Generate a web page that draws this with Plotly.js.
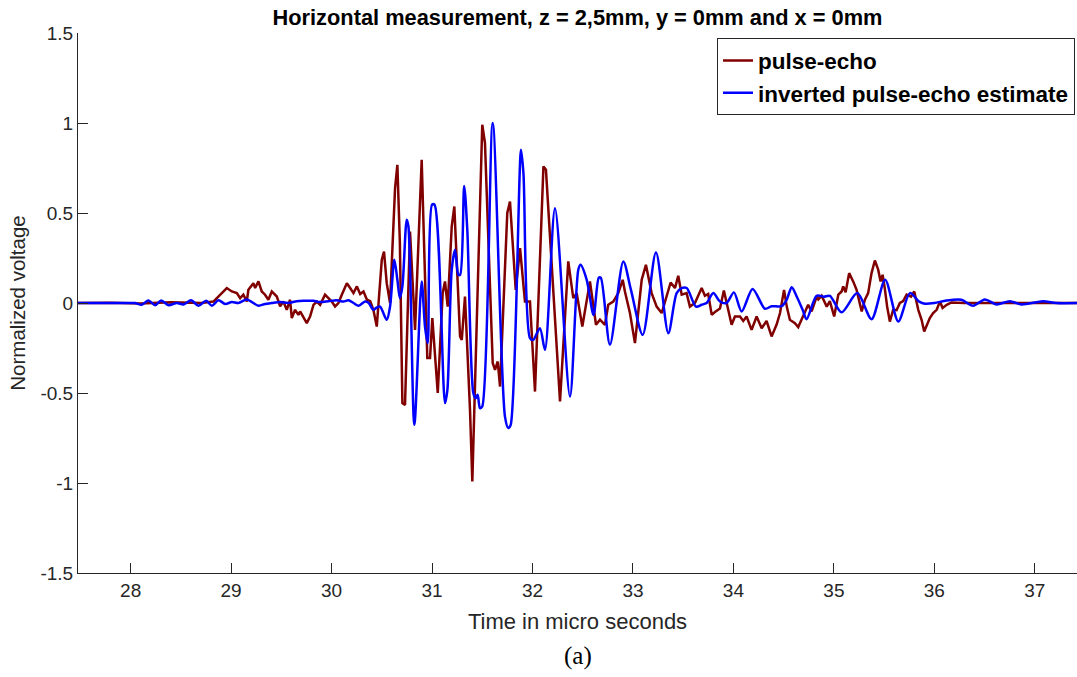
<!DOCTYPE html>
<html>
<head>
<meta charset="utf-8">
<script src="https://cdn.plot.ly/plotly-3.0.1.min.js"></script>
<style>html,body{margin:0;padding:0;background:#fff;}#chart{width:1077px;height:677px;}</style>
</head>
<body>
<div id="chart"></div>
<script>
// ---- data ----
const pulseEchoTime = [27.476, 27.8, 28.1, 28.4, 28.7, 28.824, 28.957, 29.007, 29.057, 29.09, 29.122, 29.156, 29.172, 29.222, 29.239, 29.272, 29.305, 29.338, 29.371, 29.405, 29.455, 29.488, 29.52, 29.554, 29.587, 29.604, 29.637, 29.67, 29.687, 29.72, 29.753, 29.786, 29.82, 29.853, 29.886, 29.935, 29.969, 30.002, 30.035, 30.068, 30.102, 30.152, 30.185, 30.218, 30.252, 30.285, 30.318, 30.352, 30.385, 30.416, 30.45, 30.5, 30.522, 30.549, 30.582, 30.632, 30.655, 30.68, 30.705, 30.731, 30.781, 30.831, 30.897, 30.953, 30.98, 31.003, 31.057, 31.106, 31.129, 31.156, 31.196, 31.222, 31.279, 31.296, 31.328, 31.378, 31.401, 31.5, 31.527, 31.604, 31.627, 31.654, 31.677, 31.749, 31.776, 31.833, 31.876, 31.925, 31.975, 32.025, 32.109, 32.134, 32.274, 32.356, 32.406, 32.44, 32.496, 32.572, 32.632, 32.672, 32.721, 32.754, 32.804, 32.854, 32.898, 32.92, 32.97, 33.02, 33.087, 33.129, 33.186, 33.236, 33.286, 33.318, 33.375, 33.418, 33.451, 33.485, 33.534, 33.567, 33.617, 33.684, 33.716, 33.749, 33.784, 33.816, 33.866, 33.905, 33.932, 33.982, 34.015, 34.065, 34.098, 34.131, 34.181, 34.231, 34.281, 34.33, 34.38, 34.43, 34.464, 34.504, 34.531, 34.562, 34.612, 34.645, 34.662, 34.711, 34.744, 34.778, 34.829, 34.845, 34.878, 34.929, 34.96, 35.003, 35.044, 35.077, 35.093, 35.117, 35.152, 35.192, 35.226, 35.277, 35.309, 35.341, 35.375, 35.408, 35.441, 35.465, 35.485, 35.507, 35.53, 35.557, 35.59, 35.624, 35.657, 35.69, 35.724, 35.768, 35.8, 35.84, 35.873, 35.899, 35.922, 35.955, 35.988, 36.023, 36.056, 36.082, 36.123, 36.171, 36.3, 36.8, 37.42];
const pulseEcho = [0, 0.002, -0.003, 0.004, 0.0, 0.008, 0.083, 0.064, 0.055, 0.027, 0.046, 0.008, 0.073, 0.11, 0.083, 0.12, 0.064, 0.046, 0.018, 0.064, 0.036, -0.019, 0.008, -0.038, 0.018, -0.084, -0.038, -0.066, -0.047, -0.084, -0.112, -0.075, -0.01, 0.008, -0.01, 0.046, 0.027, 0.008, -0.019, 0.0, 0.046, 0.11, 0.083, 0.055, 0.092, 0.05, 0.064, 0.018, 0.01, -0.038, -0.131, 0.24, 0.286, 0.11, 0.0, 0.639, 0.768, 0.333, -0.556, -0.566, 0.397, -0.15, 0.796, -0.306, -0.306, -0.084, -0.5, 0.055, 0.12, -0.02, 0.425, 0.536, -0.186, -0.205, 0.036, -0.594, -0.992, 0.99, 0.889, -0.334, -0.371, -0.325, -0.464, 0.5, 0.564, 0.073, 0.305, 0.008, 0.008, -0.492, 0.759, 0.74, -0.547, 0.231, 0.027, 0.055, -0.131, 0.12, -0.121, -0.093, -0.121, -0.01, 0.008, 0.055, 0.129, 0.064, -0.056, -0.223, 0.129, 0.212, 0.055, -0.02, -0.056, 0.008, 0.114, 0.083, 0.151, 0.046, 0.055, -0.02, 0.0, 0.083, 0.04, 0.05, -0.066, -0.05, -0.03, 0.07, 0.0, -0.121, -0.075, -0.075, -0.1, -0.075, -0.149, -0.075, -0.14, -0.1, -0.186, -0.12, -0.056, 0.073, -0.02, -0.093, -0.112, -0.134, -0.112, -0.047, -0.01, -0.047, 0.036, 0.02, 0.04, -0.02, 0.01, -0.075, 0.046, 0.064, 0.092, 0.06, 0.166, 0.12, 0.073, -0.047, 0.018, 0.055, 0.166, 0.236, 0.185, 0.12, 0.157, 0.08, -0.02, -0.103, -0.038, -0.04, 0.0, 0.01, 0.046, 0.035, 0.064, -0.038, -0.093, -0.158, -0.13, -0.084, -0.056, -0.038, 0.008, -0.028, -0.01, 0.003, 0.0, 0.0, 0.0];

const estimateTime = [27.476, 27.995, 28.045, 28.11, 28.177, 28.244, 28.304, 28.377, 28.46, 28.526, 28.602, 28.675, 28.751, 28.808, 28.874, 28.941, 29.007, 29.073, 29.156, 29.272, 29.338, 29.405, 29.488, 29.57, 29.653, 29.736, 29.82, 29.886, 29.969, 30.052, 30.118, 30.168, 30.218, 30.27, 30.333, 30.37, 30.416, 30.45, 30.483, 30.549, 30.582, 30.625, 30.655, 30.68, 30.705, 30.748, 30.765, 30.824, 30.897, 30.93, 30.957, 31.0, 31.025, 31.129, 31.153, 31.196, 31.229, 31.262, 31.28, 31.32, 31.351, 31.411, 31.434, 31.454, 31.477, 31.5, 31.604, 31.726, 31.759, 31.783, 31.886, 31.91, 31.975, 32.008, 32.074, 32.124, 32.224, 32.373, 32.456, 32.479, 32.539, 32.608, 32.66, 32.68, 32.771, 32.904, 32.98, 33.097, 33.229, 33.352, 33.435, 33.485, 33.535, 33.627, 33.683, 33.733, 33.8, 33.866, 33.932, 34.005, 34.082, 34.191, 34.314, 34.38, 34.479, 34.53, 34.58, 34.63, 34.689, 34.728, 34.828, 34.9, 34.96, 35.076, 35.233, 35.375, 35.51, 35.641, 35.757, 35.849, 35.906, 36.0, 36.121, 36.269, 36.386, 36.502, 36.618, 36.751, 36.867, 37.082, 37.215, 37.42];
const estimate = [0, 0, 0.0, -0.01, 0.014, -0.012, 0.014, -0.012, 0.0, -0.008, 0.015, -0.015, 0.012, -0.015, 0.015, -0.005, 0.005, 0.0, 0.02, -0.015, -0.005, 0.0, 0.005, 0.0, 0.01, 0.012, 0.012, 0.005, 0.01, 0.015, 0.008, 0.015, 0.0, -0.015, 0.008, 0.0, -0.038, -0.025, -0.02, -0.093, -0.02, 0.24, 0.129, 0.027, 0.092, 0.463, 0.425, -0.677, 0.119, -0.131, -0.223, 0.546, 0.546, -0.556, -0.482, 0.184, 0.296, 0.157, 0.157, 0.65, 0.407, -0.5, -0.529, -0.51, -0.584, -0.575, 1.0, -0.631, -0.695, -0.677, 0.852, 0.72, -0.195, -0.205, -0.14, -0.26, 0.527, -0.52, 0.185, 0.212, 0.13, -0.066, 0.14, 0.14, -0.232, 0.231, 0.073, -0.177, 0.281, -0.168, 0.055, 0.083, 0.083, -0.02, -0.01, 0.0, 0.055, 0.008, 0.0, 0.059, -0.047, 0.078, -0.032, -0.018, -0.018, 0.018, 0.087, 0.036, -0.038, -0.09, 0.04, 0.035, 0.04, -0.052, 0.055, -0.09, 0.129, -0.103, 0.055, 0.008, -0.004, 0.0, 0.014, 0.018, -0.015, 0.02, -0.008, 0.01, -0.008, 0.01, 0.0, 0.0];

const xTickValues = [28, 29, 30, 31, 32, 33, 34, 35, 36, 37];
const yTickValues = [-1.5, -1, -0.5, 0, 0.5, 1, 1.5];
const yTickLabels = ["-1.5", "-1", "-0.5", "0", "0.5", "1", "1.5"];

// ---- chart ----
const axisColor = '#262626';
const traces = [
  {x: pulseEchoTime, y: pulseEcho, type: 'scatter', mode: 'lines', name: 'pulse-echo',
   line: {color: '#800000', width: 2.5}},
  {x: estimateTime, y: estimate, type: 'scatter', mode: 'lines', name: 'inverted pulse-echo estimate',
   line: {color: '#0000ff', width: 2.5, shape: 'spline', smoothing: 0.8}}
];

const layout = {
  width: 1077, height: 677,
  margin: {l: 78, r: 0, t: 33, b: 104},
  paper_bgcolor: '#ffffff', plot_bgcolor: '#ffffff',
  font: {family: '"Liberation Sans", Arial, sans-serif', color: axisColor},
  title: {text: 'Horizontal measurement, z = 2,5mm, y = 0mm and x = 0mm',
          font: {size: 21.8, color: '#000000', weight: 'bold'},
          xref: 'paper', x: 0.5, xanchor: 'center', yref: 'container', y: 0.975, yanchor: 'middle'},
  xaxis: {range: [27.476, 37.42], tickvals: xTickValues, ticks: 'inside', ticklen: 10, tickwidth: 1,
          tickcolor: axisColor, showline: true, linecolor: axisColor, linewidth: 1, showgrid: false,
          zeroline: false, tickfont: {size: 19, color: axisColor},
          title: {text: 'Time in micro seconds', font: {size: 22, color: axisColor}, standoff: 13}},
  yaxis: {range: [-1.5, 1.5], tickvals: yTickValues, ticktext: yTickLabels, ticks: 'inside', ticklen: 10,
          tickwidth: 1, tickcolor: axisColor, showline: true, linecolor: axisColor, linewidth: 1,
          showgrid: false, zeroline: false, tickfont: {size: 19, color: axisColor},
          title: {text: 'Normalized voltage', font: {size: 20.5, color: axisColor}, standoff: 9}},
  showlegend: true,
  legend: {x: 0.998, xanchor: 'right', y: 0.99, yanchor: 'top', bgcolor: '#ffffff',
           bordercolor: axisColor, borderwidth: 1,
           font: {size: 22.5, color: '#000000', weight: 'bold'}, tracegroupgap: 0},
  annotations: [{text: '(a)', xref: 'paper', yref: 'paper', x: 0.5, y: -0.154,
                 xanchor: 'center', yanchor: 'middle', showarrow: false,
                 font: {family: '"Liberation Serif", "DejaVu Serif", serif', size: 25, color: '#000000'}}]
};

Plotly.newPlot('chart', traces, layout, {displayModeBar: false, staticPlot: true});
</script>
</body>
</html>
